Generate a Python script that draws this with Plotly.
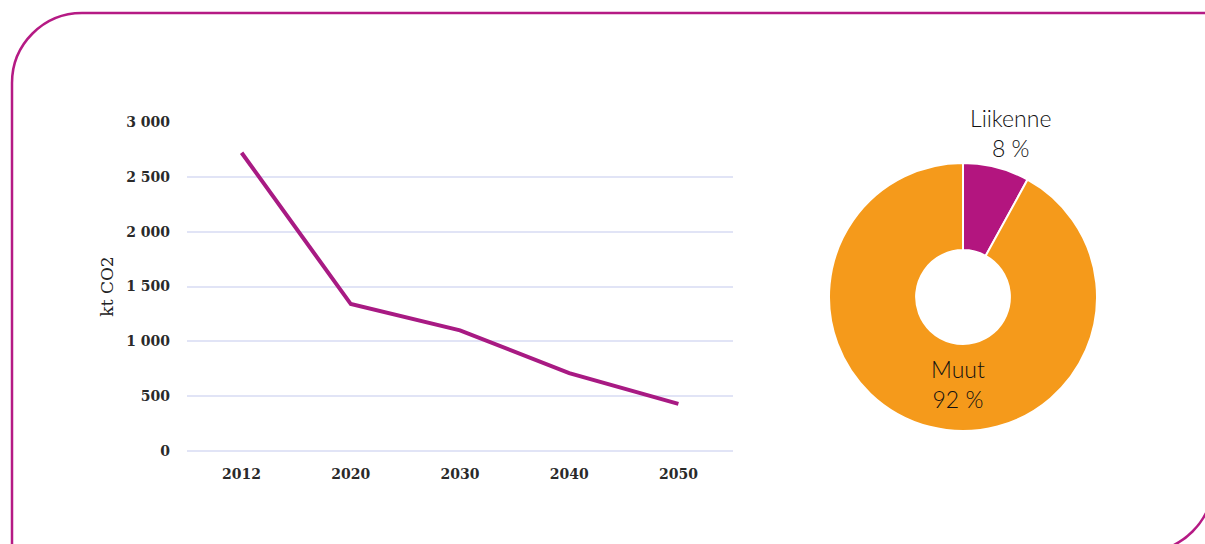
import plotly.graph_objects as go

# ---- data ----
years = ["2012", "2020", "2030", "2040", "2050"]
emissions = [2720, 1340, 1100, 710, 430]
y_tickvals = [0, 500, 1000, 1500, 2000, 2500, 3000]
y_ticktext = ["0", "500", "1 000", "1 500", "2 000", "2 500", "3 000"]
y_title = "kt CO2"

pie_labels = ["Liikenne", "Muut"]
pie_values = [8, 92]
pie_colors = ["#b3157f", "#f59a1b"]

W, H = 1205, 544


def px(x):
    return x / W


def py(y):
    return 1 - y / H


fig = go.Figure()

fig.add_trace(go.Scatter(
    x=years, y=emissions, mode="lines",
    line=dict(color="#a81a83", width=4),
    xaxis="x", yaxis="y", showlegend=False, hoverinfo="x+y",
))

fig.add_trace(go.Pie(
    labels=pie_labels, values=pie_values, hole=0.35,
    sort=False, direction="clockwise", rotation=0,
    marker=dict(colors=pie_colors, line=dict(color="white", width=2)),
    textinfo="none", showlegend=False,
    domain=dict(x=[px(829), px(1097)], y=[py(431), py(163)]),
))

# frame path (rounded top-left and bottom-right corners)
k = 0.5523
r = 70
L, T, R, B = 12, 13, 1213, 552


def P(x, y):
    return f"{px(x):.5f},{py(y):.5f}"


path = (
    f"M{P(L, B)} L{P(L, T + r)} "
    f"C{P(L, T + r - k * r)} {P(L + r - k * r, T)} {P(L + r, T)} "
    f"L{P(R, T)} L{P(R, B - r)} "
    f"C{P(R, B - r + k * r)} {P(R - r + k * r, B)} {P(R - r, B)} Z"
)

pie_font = dict(family="Lato", size=23, color="#111111", weight=300)
tick_font = dict(family="DejaVu Serif", size=14, color="#2a2a2a", weight="bold")

fig.update_layout(
    width=W, height=H,
    margin=dict(l=0, r=0, t=0, b=0, autoexpand=False),
    paper_bgcolor="white", plot_bgcolor="white",
    shapes=[dict(type="path", path=path, xref="paper", yref="paper",
                 line=dict(color="#b51a84", width=2.5), layer="below")],
    xaxis=dict(
        domain=[px(187), px(733)], type="category", range=[-0.5, 4.5],
        showgrid=False, zeroline=False, showline=False, ticks="",
        automargin=False, tickfont=tick_font, ticklabelstandoff=13,
    ),
    yaxis=dict(
        domain=[py(451), py(122)], range=[0, 3000],
        tickvals=y_tickvals, ticktext=y_ticktext,
        showgrid=True, gridcolor="#e1e4f6", gridwidth=1.5,
        zeroline=True, zerolinecolor="#e1e4f6", zerolinewidth=1.5,
        showline=False, ticks="", automargin=False,
        tickfont=tick_font, ticklabelstandoff=16,
        title=dict(text=y_title, standoff=8,
                   font=dict(family="DejaVu Serif", size=17, color="#222222")),
    ),
    annotations=[
        dict(text=f"{pie_labels[0]}<br>{pie_values[0]} %", x=px(1010), y=py(133),
             xref="paper", yref="paper", showarrow=False, font=pie_font,
             xanchor="center", yanchor="middle"),
        dict(text=f"{pie_labels[1]}<br>{pie_values[1]} %", x=px(958), y=py(384),
             xref="paper", yref="paper", showarrow=False, font=pie_font,
             xanchor="center", yanchor="middle"),
    ],
)

fig.write_html("out.html")
